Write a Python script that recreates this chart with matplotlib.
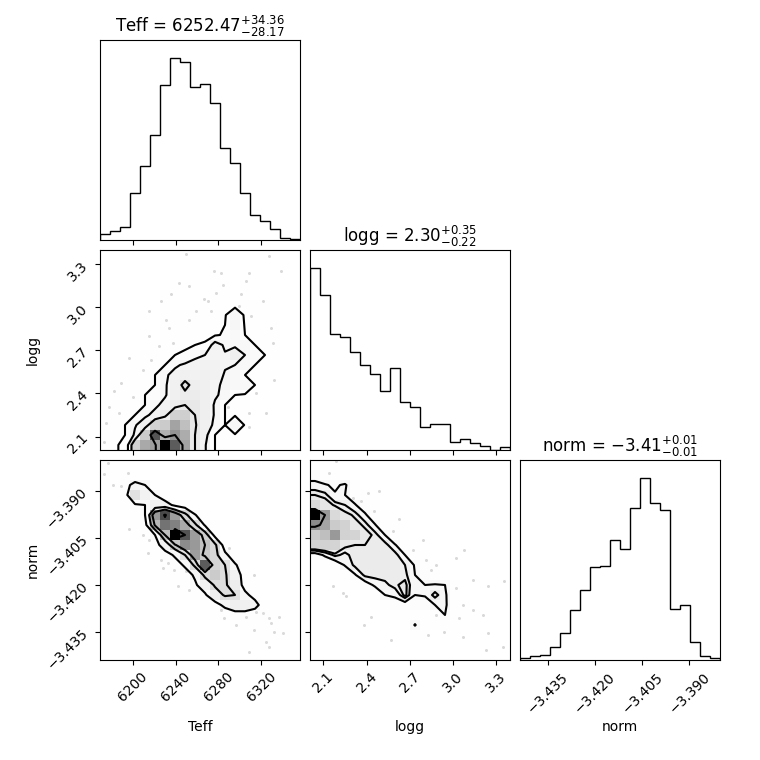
import numpy as np
import matplotlib
matplotlib.use("Agg")
import matplotlib.pyplot as plt
from matplotlib.colors import LinearSegmentedColormap
from matplotlib.ticker import MaxNLocator, NullLocator

# parameter names, plot ranges and the quoted results
labels = ["Teff", "logg", "norm"]
ranges = [(6169.5, 6356.0), (2.007, 3.398), (-3.4439, -3.3803)]
medians = [6252.47, 2.30, -3.41]
err_lo = [28.17, 0.22, 0.01]
err_hi = [34.36, 0.35, 0.01]

# 1D histogram counts (20 bins each)
teff_counts = [18, 28, 40, 141, 221, 315, 464, 543, 531, 458,
               465, 408, 275, 230, 141, 75, 56, 32, 6, 3]
logg_counts = [545, 464, 347, 339, 293, 254, 229, 176, 245, 143,
               128, 68, 78, 78, 23, 32, 20, 13, 1, 10]
norm_counts = [5, 12, 15, 40, 80, 150, 210, 278, 282, 358,
               331, 453, 543, 470, 448, 152, 164, 55, 13, 5]

# 2D histogram counts, rows from top (high y) to bottom, columns left to right
h_teff_logg = [
    [0, 0, 0, 0, 0, 0, 0, 0, 3, 0, 0, 0, 0, 0, 0, 0, 3, 0, 0, 0],
    [0, 0, 0, 0, 0, 0, 0, 0, 0, 0, 0, 0, 3, 0, 0, 0, 0, 0, 3, 0],
    [0, 0, 0, 0, 0, 0, 0, 0, 0, 0, 0, 4, 4, 0, 3, 0, 0, 0, 0, 0],
    [0, 0, 0, 0, 0, 0, 0, 3, 0, 4, 0, 0, 4, 0, 4, 3, 0, 0, 0, 0],
    [0, 0, 0, 0, 0, 0, 3, 0, 0, 0, 0, 5, 5, 0, 4, 0, 0, 3, 0, 0],
    [0, 0, 0, 0, 0, 0, 3, 0, 0, 0, 5, 5, 0, 2, 5, 3, 3, 0, 0, 0],
    [0, 0, 0, 0, 3, 0, 4, 4, 4, 4, 5, 5, 5, 17, 4, 4, 3, 0, 0, 0],
    [0, 0, 0, 0, 0, 0, 4, 4, 4, 5, 5, 5, 6, 18, 5, 4, 0, 3, 0, 0],
    [0, 0, 0, 0, 3, 0, 4, 4, 5, 5, 4, 5, 7, 15, 6, 5, 3, 3, 0, 0],
    [0, 0, 0, 0, 0, 4, 4, 5, 5, 6, 7, 24, 16, 16, 16, 6, 4, 3, 0, 0],
    [0, 0, 0, 0, 4, 4, 5, 6, 7, 16, 18, 20, 19, 25, 18, 14, 6, 3, 0, 0],
    [0, 0, 0, 4, 5, 5, 6, 16, 20, 21, 22, 22, 19, 18, 16, 6, 4, 0, 0, 0],
    [0, 0, 3, 4, 5, 6, 16, 22, 24, 22, 24, 23, 17, 16, 6, 5, 3, 3, 0, 0],
    [0, 3, 0, 5, 6, 6, 17, 23, 34, 25, 24, 19, 17, 16, 16, 6, 0, 0, 0, 0],
    [0, 0, 4, 5, 6, 9, 17, 24, 27, 27, 25, 19, 16, 6, 5, 0, 3, 0, 0, 0],
    [0, 3, 0, 5, 6, 16, 21, 26, 30, 30, 24, 17, 6, 5, 4, 0, 0, 0, 0, 0],
    [0, 4, 5, 6, 16, 21, 27, 42, 43, 30, 25, 17, 6, 5, 4, 0, 0, 0, 0, 0],
    [4, 5, 6, 17, 24, 42, 45, 60, 50, 31, 23, 16, 6, 17, 5, 0, 0, 0, 0, 0],
    [4, 5, 6, 20, 45, 82, 55, 65, 57, 30, 22, 6, 5, 5, 3, 0, 0, 0, 0, 0],
    [3, 5, 8, 42, 58, 62, 100, 80, 60, 30, 19, 6, 5, 4, 0, 0, 0, 0, 0, 0],
]
h_teff_norm = [
    [4, 0, 0, 0, 0, 0, 0, 0, 0, 0, 0, 0, 0, 0, 0, 0, 0, 0, 0, 0],
    [4, 4, 5, 0, 0, 0, 0, 0, 0, 0, 0, 0, 0, 0, 0, 0, 0, 0, 0, 0],
    [0, 5, 8, 20, 14, 5, 0, 0, 0, 0, 0, 0, 0, 0, 0, 0, 0, 0, 0, 0],
    [0, 0, 8, 34, 22, 14, 3, 0, 0, 0, 0, 0, 0, 0, 0, 0, 0, 0, 0, 0],
    [0, 0, 4, 12, 14, 22, 22, 10, 4, 0, 0, 0, 0, 0, 0, 0, 0, 0, 0, 0],
    [0, 0, 0, 4, 14, 63, 84, 62, 40, 15, 4, 0, 0, 0, 0, 0, 0, 0, 0, 0],
    [0, 0, 0, 4, 8, 52, 74, 70, 58, 38, 12, 4, 0, 0, 0, 0, 0, 0, 0, 0],
    [0, 0, 0, 4, 4, 14, 50, 100, 82, 62, 44, 8, 0, 0, 0, 0, 0, 0, 0, 0],
    [0, 0, 0, 0, 4, 8, 22, 48, 67, 63, 50, 38, 5, 0, 0, 0, 0, 0, 0, 0],
    [0, 0, 0, 0, 0, 4, 8, 16, 34, 62, 46, 40, 18, 4, 0, 0, 0, 0, 0, 0],
    [0, 0, 0, 0, 0, 0, 4, 8, 16, 38, 80, 40, 34, 16, 4, 0, 0, 0, 0, 0],
    [0, 0, 0, 0, 0, 0, 4, 4, 8, 16, 38, 45, 36, 22, 8, 0, 0, 0, 0, 0],
    [0, 0, 0, 0, 0, 0, 0, 4, 4, 12, 22, 36, 36, 26, 8, 4, 0, 0, 0, 0],
    [0, 0, 0, 0, 0, 0, 0, 0, 4, 4, 12, 26, 36, 34, 18, 8, 0, 0, 0, 0],
    [0, 0, 0, 0, 0, 0, 0, 0, 0, 0, 4, 8, 18, 24, 24, 20, 4, 0, 0, 0],
    [0, 0, 0, 0, 0, 0, 0, 0, 0, 0, 0, 4, 4, 8, 8, 4, 8, 4, 0, 0],
    [0, 0, 0, 0, 0, 0, 0, 0, 0, 0, 0, 0, 0, 4, 4, 4, 4, 4, 0, 0],
    [0, 0, 0, 0, 0, 0, 0, 0, 0, 0, 0, 0, 0, 0, 0, 4, 4, 4, 4, 0],
    [0, 0, 0, 0, 0, 0, 0, 0, 0, 0, 0, 0, 0, 0, 4, 0, 4, 0, 0, 0],
    [0, 0, 0, 0, 0, 0, 0, 0, 0, 0, 0, 0, 0, 0, 0, 0, 0, 0, 0, 0],
]
h_logg_norm = [
    [0, 0, 4, 0, 0, 0, 0, 0, 0, 0, 0, 0, 0, 0, 0, 0, 0, 0, 0, 0],
    [10, 6, 3, 0, 0, 0, 0, 0, 0, 0, 0, 0, 0, 0, 0, 0, 0, 0, 0, 0],
    [20, 17, 14, 18, 4, 0, 0, 0, 0, 0, 0, 0, 0, 0, 0, 0, 0, 0, 0, 0],
    [28, 26, 17, 16, 8, 3, 0, 0, 0, 0, 0, 0, 0, 0, 0, 0, 0, 0, 0, 0],
    [38, 32, 27, 24, 17, 8, 3, 0, 0, 0, 0, 0, 0, 0, 0, 0, 0, 0, 0, 0],
    [100, 63, 38, 30, 27, 18, 6, 3, 0, 0, 0, 0, 0, 0, 0, 0, 0, 0, 0, 0],
    [67, 59, 45, 42, 30, 27, 17, 4, 3, 0, 0, 0, 0, 0, 0, 0, 0, 0, 0, 0],
    [45, 50, 63, 42, 41, 30, 27, 16, 3, 3, 0, 0, 0, 0, 0, 0, 0, 0, 0, 0],
    [42, 42, 41, 30, 28, 28, 28, 27, 17, 6, 3, 0, 0, 0, 0, 0, 0, 0, 0, 0],
    [10, 18, 26, 22, 27, 28, 28, 28, 27, 16, 4, 3, 0, 0, 0, 0, 0, 0, 0, 0],
    [0, 4, 8, 17, 26, 28, 28, 28, 27, 24, 15, 4, 3, 0, 0, 0, 0, 0, 0, 0],
    [0, 0, 4, 6, 15, 26, 27, 27, 27, 26, 16, 10, 4, 0, 0, 0, 0, 0, 0, 0],
    [0, 0, 0, 3, 4, 10, 18, 22, 27, 30, 18, 16, 17, 16, 4, 0, 0, 0, 0, 0],
    [0, 0, 0, 0, 0, 3, 6, 16, 18, 30, 16, 17, 27, 18, 4, 0, 0, 0, 0, 0],
    [0, 0, 0, 0, 0, 0, 3, 6, 10, 10, 10, 10, 16, 18, 6, 3, 0, 0, 0, 0],
    [0, 0, 0, 0, 0, 0, 0, 0, 3, 3, 6, 3, 6, 16, 4, 3, 3, 0, 0, 0],
    [0, 0, 0, 0, 0, 0, 0, 3, 0, 3, 17, 3, 3, 3, 3, 0, 3, 0, 0, 0],
    [0, 0, 0, 0, 0, 0, 0, 0, 0, 0, 3, 3, 0, 0, 3, 0, 0, 0, 0, 0],
    [0, 0, 0, 0, 0, 0, 0, 0, 0, 0, 0, 0, 0, 0, 0, 0, 0, 3, 0, 0],
    [0, 0, 0, 0, 0, 0, 0, 0, 0, 0, 0, 0, 0, 0, 0, 0, 0, 0, 0, 0],
]

# outlying samples (faint points outside the contours)
pts_tl_teff = [6249.7, 6327.4, 6276.1, 6282.3, 6308.7, 6338.3, 6283.9, 6243.5,
               6252.8, 6305.6, 6235.7, 6277.7, 6301.0, 6226.4, 6266.8, 6269.9,
               6299.4, 6321.2, 6215.5, 6231.0, 6259.0, 6273.0, 6252.8, 6310.3,
               6328.9, 6215.5, 6234.1, 6224.8, 6237.3, 6196.9, 6217.1, 6209.3,
               6189.1, 6200.0, 6182.9, 6178.2, 6175.1, 6173.5, 6187.5, 6330.5,
               6332.0, 6315.0, 6308.7, 6324.3, 6308.7, 6288.5]
pts_tl_logg = [3.368, 3.356, 3.251, 3.240, 3.240, 3.251, 3.158, 3.170,
               3.147, 3.182, 3.089, 3.100, 3.089, 3.042, 3.054, 3.042,
               3.007, 3.042, 2.972, 2.914, 2.972, 2.972, 2.914, 2.937,
               2.856, 2.798, 2.856, 2.728, 2.751, 2.647, 2.635, 2.565,
               2.472, 2.379, 2.414, 2.309, 2.193, 2.065, 2.263, 2.751,
               2.496, 2.402, 2.263, 2.263, 2.170, 2.309]

pts_tn_teff = [6176.6, 6173.5, 6195.3, 6181.3, 6189.1, 6196.9, 6209.3, 6215.5,
               6214.0, 6226.4, 6232.6, 6228.0, 6238.8, 6249.7, 6241.9, 6252.8,
               6277.7, 6290.1, 6313.4, 6315.0, 6321.2, 6327.4, 6336.7, 6329.0,
               6332.1, 6339.8, 6324.3, 6327.4, 6308.7, 6313.4, 6296.3, 6285.4,
               6282.3, 6305.6]
pts_tn_norm = [-3.3812, -3.3849, -3.3843, -3.3881, -3.3886, -3.4024, -3.4040, -3.4056,
               -3.4099, -3.4120, -3.4131, -3.4147, -3.4152, -3.4157, -3.4205, -3.4216,
               -3.4056, -3.4083, -3.4168, -3.4285, -3.4290, -3.4306, -3.4301, -3.4322,
               -3.4349, -3.4354, -3.4381, -3.4397, -3.4413, -3.4344, -3.4328, -3.4306,
               -3.4280, -3.4301]

pts_ln_logg = [2.188, 2.141, 2.304, 2.408, 2.489, 2.362, 2.454, 2.628,
               2.582, 2.790, 2.721, 2.814, 2.883, 2.848, 3.022, 3.080,
               3.138, 3.243, 3.358, 3.022, 3.068, 3.138, 3.208, 3.045,
               2.883, 2.825, 2.570, 2.385, 2.431, 2.234, 2.165, 2.257,
               3.068, 3.243, 3.231, 3.347, 2.941]
pts_ln_norm = [-3.3806, -3.3843, -3.3923, -3.3907, -3.3902, -3.3934, -3.3966, -3.3992,
               -3.4030, -3.4056, -3.4088, -3.4120, -3.4136, -3.4152, -3.4115, -3.4088,
               -3.4184, -3.4205, -3.4189, -3.4210, -3.4264, -3.4280, -3.4296, -3.4306,
               -3.4296, -3.4360, -3.4376, -3.4328, -3.4301, -3.4227, -3.4205, -3.4237,
               -3.4365, -3.4354, -3.4407, -3.4397, -3.4349]

grids = {(1, 0): h_teff_logg, (2, 0): h_teff_norm, (2, 1): h_logg_norm}
points = {(1, 0): (pts_tl_teff, pts_tl_logg),
          (2, 0): (pts_tn_teff, pts_tn_norm),
          (2, 1): (pts_ln_logg, pts_ln_norm)}

nbins = 20
sigmas = np.arange(0.5, 2.1, 0.5)
levels = 1.0 - np.exp(-0.5 * sigmas ** 2)

white_cmap = LinearSegmentedColormap.from_list("white_cmap", [(1, 1, 1), (1, 1, 1)], N=2)
density_cmap = LinearSegmentedColormap.from_list("density_cmap", ["k", (1, 1, 1, 0)])


def draw_hist2d(ax, grid, xr, yr, px, py):
    H = np.array(grid, dtype=float)[::-1].T  # H[ix, iy]
    X = np.linspace(xr[0], xr[1], nbins + 1)
    Y = np.linspace(yr[0], yr[1], nbins + 1)

    # contour levels enclosing the given fractions of the mass
    Hflat = np.sort(H.flatten())[::-1]
    sm = np.cumsum(Hflat)
    sm /= sm[-1]
    V = np.empty(len(levels))
    for i, v0 in enumerate(levels):
        try:
            V[i] = Hflat[sm <= v0][-1]
        except IndexError:
            V[i] = Hflat[0]
    V.sort()
    m = np.diff(V) == 0
    while np.any(m):
        V[np.where(m)[0][0]] *= 0.9
        m = np.diff(V) == 0
    V.sort()

    # padded grid so the contours reach the edges
    X1 = 0.5 * (X[1:] + X[:-1])
    Y1 = 0.5 * (Y[1:] + Y[:-1])
    H2 = H.min() + np.zeros((H.shape[0] + 4, H.shape[1] + 4))
    H2[2:-2, 2:-2] = H
    H2[2:-2, 1] = H[:, 0]
    H2[2:-2, -2] = H[:, -1]
    H2[1, 2:-2] = H[0]
    H2[-2, 2:-2] = H[-1]
    H2[1, 1] = H[0, 0]
    H2[1, -2] = H[0, -1]
    H2[-2, 1] = H[-1, 0]
    H2[-2, -2] = H[-1, -1]
    X2 = np.concatenate([X1[0] + np.array([-2, -1]) * np.diff(X1[:2]), X1,
                         X1[-1] + np.array([1, 2]) * np.diff(X1[-2:])])
    Y2 = np.concatenate([Y1[0] + np.array([-2, -1]) * np.diff(Y1[:2]), Y1,
                         Y1[-1] + np.array([1, 2]) * np.diff(Y1[-2:])])

    ax.plot(px, py, "o", color="k", ms=2.2, mec="none", alpha=0.15, zorder=-1, rasterized=True)
    ax.contourf(X2, Y2, H2.T, [V.min(), H.max()], cmap=white_cmap, antialiased=False)
    ax.pcolor(X, Y, H.max() - H.T, cmap=density_cmap)
    ax.contour(X2, Y2, H2.T, V, colors="k")
    ax.set_xlim(xr)
    ax.set_ylim(yr)


K = 3
fig, axes = plt.subplots(K, K, figsize=(7.6, 7.6))
lb = 1.0 / 7.6
tr = 7.2 / 7.6
fig.subplots_adjust(left=lb, bottom=lb, right=tr, top=tr, wspace=0.05, hspace=0.05)

counts = [teff_counts, logg_counts, norm_counts]

for i in range(K):
    # diagonal histograms
    ax = axes[i, i]
    edges = np.linspace(ranges[i][0], ranges[i][1], nbins + 1)
    centers = 0.5 * (edges[1:] + edges[:-1])
    ax.hist(centers, bins=edges, weights=counts[i], histtype="step", color="k")
    ax.set_xlim(ranges[i])
    ax.set_ylim(0, 1.1 * max(counts[i]))
    ax.set_yticklabels([])
    ax.xaxis.set_major_locator(MaxNLocator(5, prune="lower"))
    ax.yaxis.set_major_locator(NullLocator())
    title = "{0} = ${1:.2f}_{{-{2:.2f}}}^{{+{3:.2f}}}$".format(labels[i], medians[i], err_lo[i], err_hi[i])
    ax.set_title(title)
    if i < K - 1:
        ax.set_xticklabels([])
    else:
        for l in ax.get_xticklabels():
            l.set_rotation(45)
        ax.set_xlabel(labels[i])
        ax.xaxis.set_label_coords(0.5, -0.3)

    for j in range(K):
        ax = axes[i, j]
        if j > i:
            ax.set_frame_on(False)
            ax.set_xticks([])
            ax.set_yticks([])
            continue
        if j == i:
            continue
        px, py = points[(i, j)]
        draw_hist2d(ax, grids[(i, j)], ranges[j], ranges[i], px, py)
        ax.xaxis.set_major_locator(MaxNLocator(5, prune="lower"))
        ax.yaxis.set_major_locator(MaxNLocator(5, prune="lower"))
        if i < K - 1:
            ax.set_xticklabels([])
        else:
            for l in ax.get_xticklabels():
                l.set_rotation(45)
            ax.set_xlabel(labels[j])
            ax.xaxis.set_label_coords(0.5, -0.3)
        if j > 0:
            ax.set_yticklabels([])
        else:
            for l in ax.get_yticklabels():
                l.set_rotation(45)
            ax.set_ylabel(labels[i])
            ax.yaxis.set_label_coords(-0.3, 0.5)

fig.savefig("out.png", dpi=100)
